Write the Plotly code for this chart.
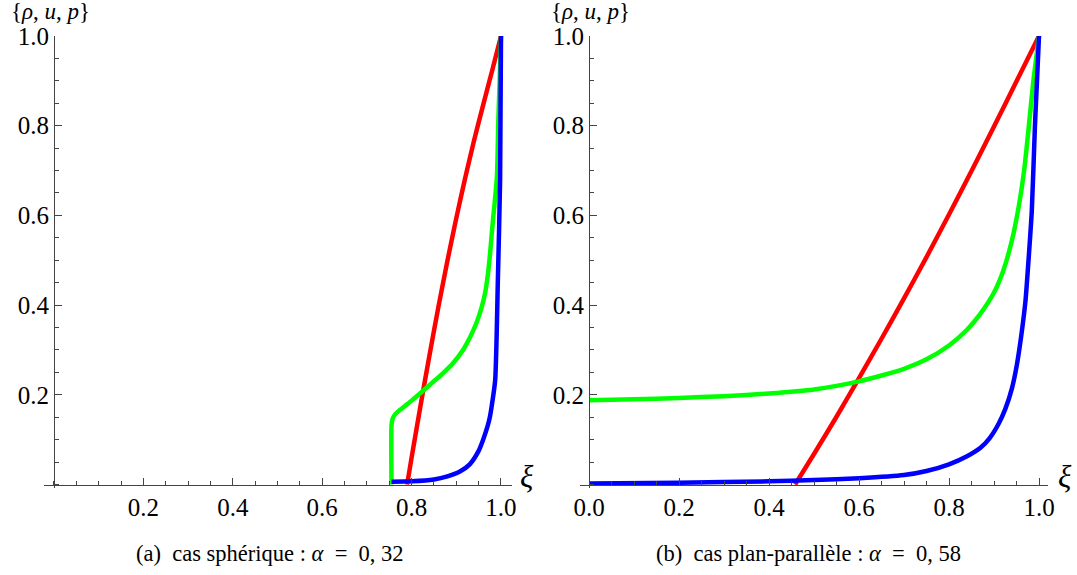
import plotly.graph_objects as go

W, H = 1077, 575

# ---------------- data: (a) spherical case, alpha = 0.32 ----------------
a_rho_xi = [0.755, 0.80, 0.85, 0.88, 0.908, 0.93, 0.95, 0.96, 0.97, 0.975, 0.98, 0.987, 0.993, 0.998, 1.0]
a_rho = [0.006, 0.007, 0.011, 0.018, 0.029, 0.045, 0.075, 0.10, 0.13, 0.15, 0.18, 0.233, 0.456, 0.68, 1.0]

a_u_xi = [0.79, 0.80, 0.82, 0.84, 0.86, 0.88, 0.90, 0.92, 0.94, 0.96, 0.98, 1.00]
a_u = [0.000, 0.060, 0.176, 0.288, 0.396, 0.498, 0.594, 0.684, 0.768, 0.846, 0.922, 1.000]

a_p_xi = [0.755, 0.755, 0.757, 0.762, 0.770, 0.785, 0.800, 0.820, 0.845, 0.870, 0.893, 0.915,
          0.931, 0.945, 0.957, 0.965, 0.971, 0.976, 0.980, 0.984, 0.987, 0.991, 0.994, 0.997, 1.000]
a_p = [0.000, 0.130, 0.145, 0.155, 0.163, 0.175, 0.187, 0.204, 0.226, 0.248, 0.271, 0.300,
       0.329, 0.360, 0.396, 0.430, 0.471, 0.520, 0.567, 0.610, 0.640, 0.690, 0.810, 0.900, 1.000]

# ---------------- data: (b) plane-parallel case, alpha = 0.58 ----------------
b_rho_xi = [0.0, 0.2, 0.4, 0.5, 0.6, 0.7, 0.75, 0.8, 0.84, 0.87, 0.89, 0.91, 0.925, 0.94,
            0.951, 0.961, 0.97, 0.976, 0.984, 0.991, 0.996, 1.0]
b_rho = [0.002, 0.004, 0.007, 0.010, 0.014, 0.021, 0.030, 0.045, 0.063, 0.082, 0.103, 0.135,
         0.168, 0.215, 0.268, 0.335, 0.410, 0.490, 0.610, 0.800, 0.910, 1.0]

b_u_xi = [0.458, 0.5, 0.55, 0.6, 0.65, 0.7, 0.75, 0.8, 0.85, 0.9, 0.95, 1.0]
b_u = [0.000, 0.068, 0.151, 0.237, 0.325, 0.415, 0.507, 0.602, 0.699, 0.798, 0.899, 1.000]

b_p_xi = [0.0, 0.1, 0.2, 0.3, 0.4, 0.5, 0.6, 0.65, 0.7, 0.75, 0.8, 0.84, 0.87, 0.9, 0.92,
          0.94, 0.955, 0.967, 0.976, 0.987, 1.0]
b_p = [0.188, 0.190, 0.193, 0.197, 0.203, 0.212, 0.230, 0.243, 0.258, 0.279, 0.310, 0.345,
       0.381, 0.428, 0.475, 0.545, 0.620, 0.700, 0.785, 0.895, 1.0]

left_xticks = [0.2, 0.4, 0.6, 0.8, 1.0]
left_xlabels = ["0.2", "0.4", "0.6", "0.8", "1.0"]
right_xticks = [0.0, 0.2, 0.4, 0.6, 0.8, 1.0]
right_xlabels = ["0.0", "0.2", "0.4", "0.6", "0.8", "1.0"]
yticks = [0.2, 0.4, 0.6, 0.8, 1.0]
ylabels = ["0.2", "0.4", "0.6", "0.8", "1.0"]

NB = "\u00a0"
captions = [f"(a){NB} cas sphérique : <i>α</i>{NB}{NB}={NB}{NB}0,{NB}32",
            f"(b){NB} cas plan-parallèle : <i>α</i>{NB}{NB}={NB}{NB}0,{NB}58"]

RED, GREEN, BLUE = "#ff0000", "#00ff00", "#0000ff"
FONT = "Liberation Serif, Times New Roman, serif"
AX = "#444444"

# pixel geometry
L_X0, L_SC = 54.0, 447.0
R_X0, R_SC = 589.0, 450.0
Y0, Y1 = 484.5, 36.0
YSC = Y0 - Y1
L_RANGE = [-0.022, 1.025]
R_RANGE = [-0.02, 1.02]
Y_RANGE = [-0.008, 1.0]

def xdom(x0, sc, rng):
    return [(x0 + rng[0] * sc) / W, (x0 + rng[1] * sc) / W]

ydom = [1 - (Y0 - Y_RANGE[0] * YSC) / H, 1 - (Y0 - Y_RANGE[1] * YSC) / H]
xaxis_pos = 1 - Y0 / H

fig = go.Figure()
lw = 4.5
def add(x, y, color, xa, ya):
    fig.add_trace(go.Scatter(x=x, y=y, mode="lines", xaxis=xa, yaxis=ya,
                             line=dict(color=color, width=lw, shape="spline", smoothing=0.6),
                             showlegend=False, hoverinfo="skip"))

add(a_u_xi, a_u, RED, "x", "y")
add(a_p_xi, a_p, GREEN, "x", "y")
add(a_rho_xi, a_rho, BLUE, "x", "y")
add(b_u_xi, b_u, RED, "x2", "y2")
add(b_p_xi, b_p, GREEN, "x2", "y2")
add(b_rho_xi, b_rho, BLUE, "x2", "y2")

tickfont = dict(family=FONT, size=25, color="black")
minor = dict(dtick=0.05, ticks="inside", ticklen=4, tickcolor=AX, tickwidth=1)

def xax(rng, dom, tv, tt):
    return dict(range=rng, domain=dom, anchor="free", position=xaxis_pos, automargin=False,
                showline=True, linecolor=AX, linewidth=1, showgrid=False, zeroline=False,
                tickvals=tv, ticktext=tt, ticks="inside", ticklen=7, tickcolor=AX,
                tickfont=tickfont, minor=minor, fixedrange=True)

def yax(dom, xpos):
    return dict(range=Y_RANGE, domain=dom, anchor="free", position=xpos, automargin=False,
                showline=True, linecolor=AX, linewidth=1, showgrid=False, zeroline=False,
                tickvals=yticks, ticktext=ylabels, ticks="inside", ticklen=7, tickcolor=AX,
                tickfont=tickfont, minor=minor, fixedrange=True)

fig.update_layout(
    width=W, height=H, margin=dict(l=0, r=0, t=0, b=0, pad=0),
    paper_bgcolor="white", plot_bgcolor="white",
    xaxis=xax(L_RANGE, xdom(L_X0, L_SC, L_RANGE), left_xticks, left_xlabels),
    yaxis=yax(ydom, L_X0 / W),
    xaxis2=xax(R_RANGE, xdom(R_X0, R_SC, R_RANGE), right_xticks, right_xlabels),
    yaxis2=yax(ydom, R_X0 / W),
)

def ann(px, py, text, size, xanchor="center", yanchor="middle"):
    fig.add_annotation(x=px / W, y=1 - py / H, xref="paper", yref="paper", text=text,
                       showarrow=False, xanchor=xanchor, yanchor=yanchor, borderpad=0,
                       font=dict(family=FONT, size=size, color="black"))

ylab = "{<i>ρ</i>, <i>u</i>, <i>p</i>}"
ann(50, -2, ylab, 23, yanchor="top")
ann(590, -2, ylab, 23, yanchor="top")
ann(519, 476, "<i>ξ</i>", 31, "left")
ann(1057, 476, "<i>ξ</i>", 31, "left")
ann(270, 553, captions[0], 22.5)
ann(809, 553, captions[1], 22.5)

fig.write_html("out.html", config={"displayModeBar": False},
               post_script="document.body.style.margin='0';document.body.style.overflow='hidden';")
